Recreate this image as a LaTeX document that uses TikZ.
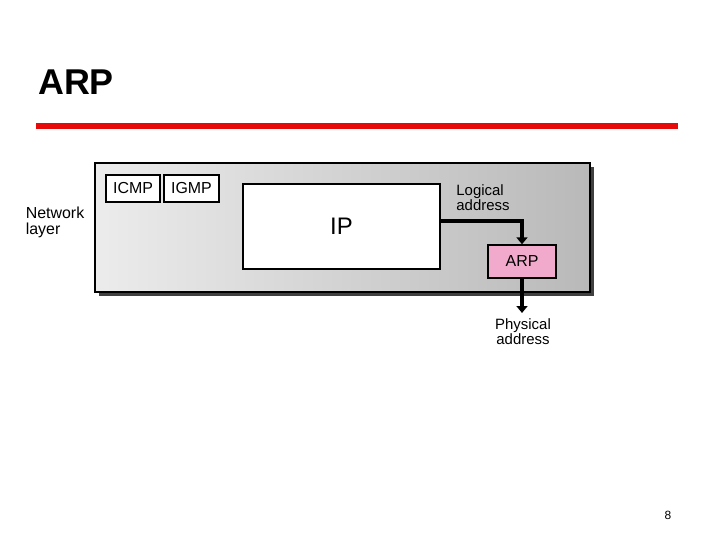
\documentclass[tikz,border=0pt]{standalone}
\usepackage{fontspec}
\setmainfont{Liberation Sans}
\usetikzlibrary{arrows.meta}
\definecolor{arpred}{RGB}{230,10,10}
\definecolor{arppink}{RGB}{242,170,204}
\begin{document}
\begin{tikzpicture}[x=1bp, y=-1bp,
                    line join=miter, % sharp box corners
                    every node/.style = {inner sep=1pt, font=\fontsize{15}{15}\selectfont},
                    box/.style = {draw, line width=1.4pt, fill=white},
                    flow/.style = {line width=4.5pt, -{Triangle[length=7pt,width=11pt]}}
                   ]
  \useasboundingbox (0,0) rectangle (720,540);
  \node[anchor=west, font=\bfseries\fontsize{36}{38}\selectfont] (title) at (37,82) {ARP};
  \fill[arpred] (36,123) rectangle (678,129);
  % layer frame with shadow
  \fill[black!75] (99,167) rectangle (594,296);
  \shade[left color=gray!15, right color=gray!55, draw=black, line width=1.4pt]
    (95,163) rectangle (590,292);
  \node[box, minimum width=54bp, minimum height=27bp, font=\fontsize{16}{16}\selectfont] (icmp) at (133,188.5) {ICMP};
  \node[box, minimum width=55bp, minimum height=27bp, font=\fontsize{16}{16}\selectfont] (igmp) at (191.5,188.5) {IGMP};
  \node[box, minimum width=197bp, minimum height=85bp, font=\fontsize{24}{24}\selectfont] (ip) at (341.5,226.5) {IP};
  \node[box, fill=arppink, minimum width=68bp, minimum height=33bp, font=\fontsize{16}{16}\selectfont] (arp) at (522,261.5) {ARP};
  \node[align=left] (logical) at (483,198) {Logical\\address};
  \node[align=center] (physical) at (523,332) {Physical\\address};
  \node[align=left, font=\fontsize{16}{16}\selectfont] (layer) at (55,222) {Network\\layer};
  \node[font=\fontsize{12}{13}\selectfont] (page) at (668,515) {8};
  \coordinate (out) at (arp.south |- 0,313);
  \draw[flow] (ip.east |- 0,221) -| (arp.north);
  \draw[flow] (arp.south) -- (out);
\end{tikzpicture}
\end{document}
